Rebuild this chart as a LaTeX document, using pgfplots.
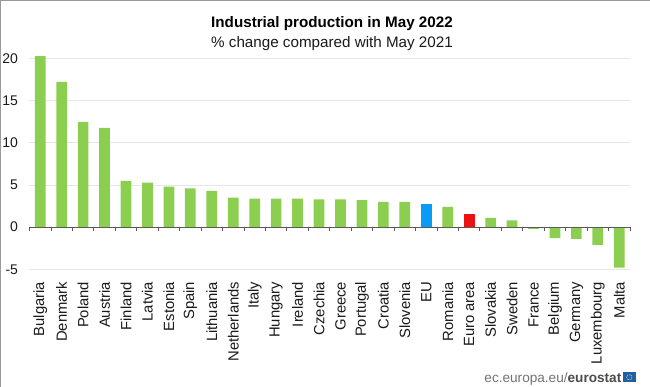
\documentclass[border=0pt]{standalone}
\usepackage{pgfplots}
\pgfplotsset{compat=1.18}
\usepackage{fontspec}
\setmainfont{Liberation Sans}
\definecolor{bargreen}{HTML}{8CCF50}
\definecolor{eublue}{HTML}{0A9BF5}
\definecolor{eared}{HTML}{EE1111}
\definecolor{gridc}{HTML}{E6E6E6}
\definecolor{framec}{HTML}{9A9A9A}
\definecolor{txt}{HTML}{1A1A1A}
\definecolor{flagb}{HTML}{1F5FA8}
\begin{document}
\begin{tikzpicture}[x=1pt,y=1pt]
\useasboundingbox (0,0) rectangle (650,387);
\fill[white] (0,0) rectangle (650,387);
\draw[framec,line width=1pt] (0.5,0) -- (0.5,386.5) -- (650,386.5);
\begin{axis}[
  at={(29.5pt,117.7pt)}, anchor=south west,
  scale only axis, width=600.5pt, height=210.6pt,
  xmin=-0.5, xmax=27.5, ymin=-5, ymax=20,
  clip=false,
  axis line style={draw=none},
  ytick={-5,0,5,10,15,20},
  yticklabel style={font=\fontsize{14}{16}\selectfont, text=txt, /pgf/number format/assume math mode=true},
  ymajorgrids, grid style={gridc, line width=0.9pt},
  major tick length=0pt,
  tick style={draw=none},
  yticklabel shift=8pt,
  xtick={0,...,27},
  xticklabels={Bulgaria,Denmark,Poland,Austria,Finland,Latvia,Estonia,Spain,Lithuania,Netherlands,Italy,Hungary,Ireland,Czechia,Greece,Portugal,Croatia,Slovenia,EU,Romania,Euro area,Slovakia,Sweden,France,Belgium,Germany,Luxembourg,Malta},
  xticklabel style={font=\fontsize{14.8}{16}\selectfont, text=txt, rotate=90, anchor=east, xshift=-9pt},
  ybar, bar width=10.7pt,
]
\addplot[fill=bargreen, draw=none, bar shift=0pt] coordinates {
(0,20.3)(1,17.25)(2,12.5)(3,11.8)(4,5.5)(5,5.3)(6,4.8)(7,4.6)(8,4.3)(9,3.5)(10,3.4)(11,3.4)(12,3.4)(13,3.3)(14,3.3)(15,3.2)(16,3.0)(17,3.0)(19,2.4)(21,1.1)(22,0.8)(23,-0.2)(24,-1.3)(25,-1.4)(26,-2.1)(27,-4.8)};
\addplot[fill=eublue, draw=none, bar shift=0pt] coordinates {(18,2.7)};
\addplot[fill=eared, draw=none, bar shift=0pt] coordinates {(20,1.6)};
\end{axis}
\begin{axis}[
  at={(29.5pt,117.7pt)}, anchor=south west,
  scale only axis, width=600.5pt, height=210.6pt,
  xmin=-0.5, xmax=27.5, ymin=-5, ymax=20,
  axis x line=middle, axis y line=none,
  axis line style={-, draw=black!65, line width=0.8pt},
  xtick={-0.5,0.5,...,27.5}, xticklabels={},
  tick style={draw=black!65, line width=0.8pt},
  tick align=outside, major tick length=4pt,
  ytick=\empty,
]
\end{axis}
\node[font=\fontsize{15.2}{18}\selectfont\bfseries, text=black, anchor=base] at (332,359) {Industrial production in May 2022};
\node[font=\fontsize{15.2}{18}\selectfont, text=txt, anchor=base] at (332,339.5) {\% change compared with May 2021};
\node[font=\fontsize{13.6}{16}\selectfont, anchor=base east, text=black!55, inner sep=0pt] at (621.5,4.5) {ec.europa.eu/\textbf{\textcolor{black!70}{eurostat}}};
\fill[flagb] (622.7,4.5) rectangle (636,15);
\draw[yellow!70!white, line width=0.5pt, dash pattern=on 0.7pt off 0.7pt] (629.3,9.7) circle (2.7);
\end{tikzpicture}
\end{document}
